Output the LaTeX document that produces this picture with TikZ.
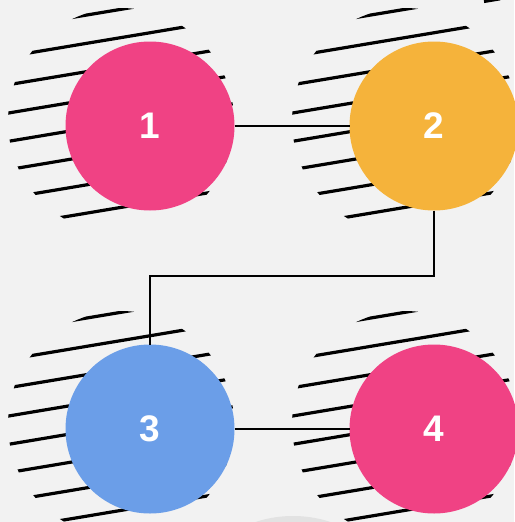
\documentclass[tikz,border=0pt]{standalone}
\usepackage{fontspec}
\setmainfont{Liberation Sans}
\definecolor{bg}{HTML}{F2F2F2}
\definecolor{cpink}{HTML}{F04284}
\definecolor{corange}{HTML}{F5B33B}
\definecolor{cblue}{HTML}{6B9EE8}
\definecolor{cshade}{HTML}{E2E2E2}
\tikzset{
  bubble/.style={circle, minimum size=169pt, inner sep=0pt, outer sep=0pt,
    text=white, font=\fontsize{37}{37}\selectfont\bfseries},
  hatchline/.style={line width=3.2pt, black},
  link/.style={draw=black, line width=1.4pt}
}
\newcommand{\hatchdisc}[2]{%
  \begin{scope}
    \clip (#1-29,#2-5) circle (113);
    \foreach \k in {-4,...,3}{
      \draw[hatchline] (#1-29-140,#2-3.5+\k*28.3+23.4) -- (#1-29+140,#2-3.5+\k*28.3-23.4);
    }
  \end{scope}}
\begin{document}
\begin{tikzpicture}[x=1pt,y=-1pt]
  \fill[bg] (0,0) rectangle (514,522);
  \useasboundingbox (0,0) rectangle (514,522);
  \begin{scope}
    \clip (0,0) rectangle (514,522);
    \fill[cshade] (293,636) circle (120);
    \draw[hatchline] (484,1.5) -- (500,-1.2);
    \hatchdisc{150}{126}
    \hatchdisc{434}{126}
    \hatchdisc{150}{429}
    \hatchdisc{434}{429}
  \end{scope}
  \node[bubble, fill=cpink] (n1) at (150,126) {1};
  \node[bubble, fill=corange] (n2) at (434,126) {2};
  \node[bubble, fill=cblue] (n3) at (150,429) {3};
  \node[bubble, fill=cpink] (n4) at (434,429) {4};
  \coordinate (bend) at (434,276);
  \draw[link] (n1) -- (n2);
  \draw[link] (n2.south) -- (bend) -| (n3.north);
  \draw[link] (n3) -- (n4);
\end{tikzpicture}
\end{document}
